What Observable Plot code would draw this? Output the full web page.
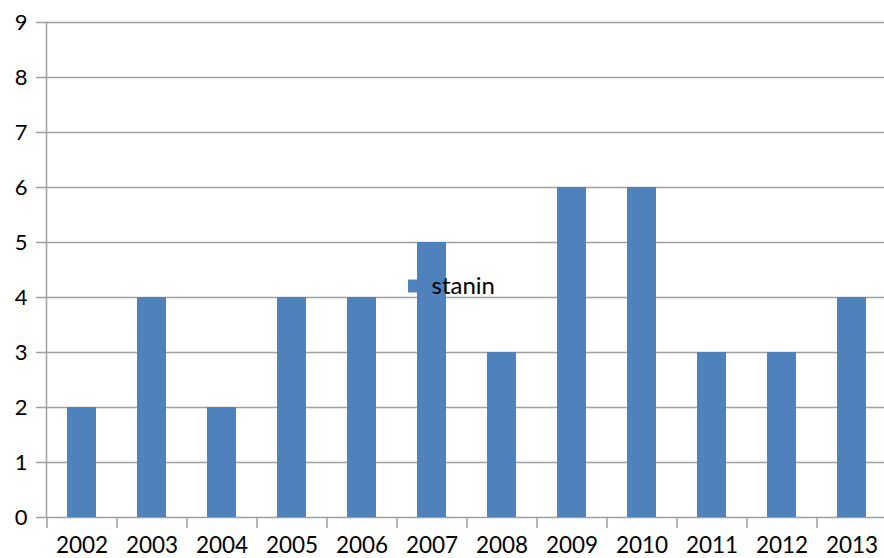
<!DOCTYPE html>
<html>
<head>
<meta charset="utf-8">
<script src="https://cdn.jsdelivr.net/npm/d3@7"></script>
<script src="https://cdn.jsdelivr.net/npm/@observablehq/plot@0.6"></script>
<style>
  html, body { margin: 0; padding: 0; background: #fff; }
  #chart svg { display: block; }
</style>
</head>
<body>
<div id="chart"></div>
<script>
const years = ["2002","2003","2004","2005","2006","2007","2008","2009","2010","2011","2012","2013"];
const stanin = [2,4,2,4,4,5,3,6,6,3,3,4];
const yTicks = [0,1,2,3,4,5,6,7,8,9];
const seriesName = "stanin";

const data = years.map((y, i) => ({year: y, value: stanin[i]}));
const gray = "#a0a0a0";
const blue = "#4f81bd";

const chart = Plot.plot({
  width: 884,
  height: 558,
  marginTop: 22,
  marginBottom: 41,
  marginLeft: 46,
  marginRight: -2,
  style: {fontFamily: "Lato, sans-serif", background: "#fff"},
  x: {domain: years, paddingInner: 0.586, paddingOuter: 0.293},
  y: {domain: [0, 9]},
  marks: [
    Plot.gridY(yTicks, {stroke: gray, strokeOpacity: 1, strokeWidth: 1.5}),
    Plot.axisY(yTicks, {tickSize: 10, tickPadding: 9, tickFormat: "d", stroke: gray, strokeWidth: 1.5, fontSize: 22, fill: "#000", label: null}),
    Plot.axisX({tickSize: 11, tickFormat: () => "", dx: -35, stroke: gray, strokeWidth: 1.5, label: null}),
    Plot.axisX({tickSize: 0, tickPadding: 20, fontSize: 22.5, fill: "#000", label: null}),
    Plot.frame({anchor: "left", stroke: gray, strokeWidth: 1.5}),
    Plot.barY(data, {x: "year", y: "value", fill: blue}),
    Plot.dot([seriesName], {frameAnchor: "middle", symbol: "square", r: 7.3, fill: blue, stroke: null, dx: -52, dy: 16}),
    Plot.text([seriesName], {frameAnchor: "middle", text: d => d, textAnchor: "start", dx: -35, dy: 16, fontSize: 24, fill: "#000"})
  ]
});
document.getElementById("chart").appendChild(chart);
</script>
</body>
</html>
